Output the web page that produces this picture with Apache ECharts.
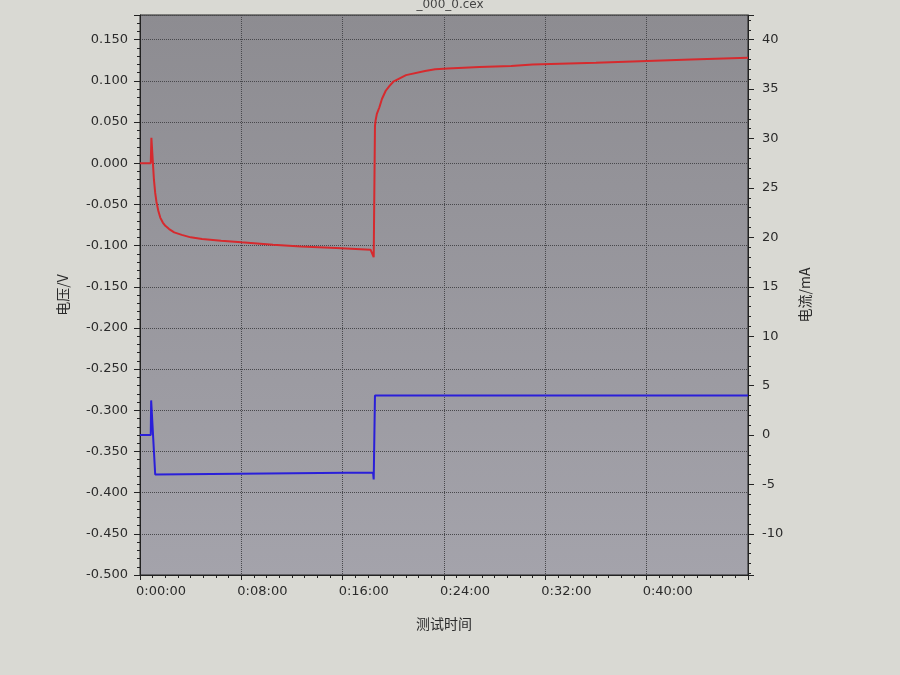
<!DOCTYPE html>
<html>
<head>
<meta charset="utf-8">
<script src="https://cdn.jsdelivr.net/npm/echarts@6/dist/echarts.min.js"></script>
<style>
  html, body { margin: 0; padding: 0; background: #d9d9d3; }
  #main { width: 900px; height: 675px; }
</style>
</head>
<body>
<div id="main"></div>
<script>
// 测试时间 (分钟) 与电压 (V)
var voltTime  = [0, 0.85, 0.9, 1.0, 1.1, 1.2, 1.3, 1.45, 1.6, 1.8, 2.0, 2.3, 2.7, 3.3, 4.0, 4.9, 6.4, 8.0, 10.5, 12.7, 15.5, 18.2, 18.35, 18.45,
                 18.55, 18.6, 18.7, 18.9, 19.1, 19.4, 19.7, 20.0, 20.5, 21.0, 22.5, 23.3, 24.3, 26.8, 29.3, 31, 36, 43.5, 48];
var voltValue = [0.000, 0.000, 0.031, 0.005, -0.020, -0.036, -0.047, -0.058, -0.066, -0.072, -0.076, -0.080, -0.084, -0.087, -0.090, -0.092, -0.094, -0.096, -0.099, -0.101, -0.103, -0.105, -0.106, -0.114,
                 0.045, 0.052, 0.060, 0.068, 0.078, 0.088, 0.094, 0.099, 0.103, 0.107, 0.112, 0.114, 0.115, 0.117, 0.118, 0.120, 0.122, 0.126, 0.128];

// 测试时间 (分钟) 与电流 (mA)
var currTime  = [0, 0.85, 0.88, 1.2, 10, 18.4, 18.45, 18.55, 30, 48];
var currValue = [0, 0, 3.5, -4.0, -3.9, -3.8, -4.5, 4.0, 4.0, 4.0];

var xTicks = [0, 8, 16, 24, 32, 40];

function pairs(xs, ys) {
    return xs.map(function (x, i) { return [x, ys[i]]; });
}

function fmtTime(m) {
    var h = Math.floor(m / 60);
    var mm = Math.round(m % 60);
    return h + ':' + (mm < 10 ? '0' : '') + mm + ':00';
}

var chart = echarts.init(document.getElementById('main'));

var labelFont = { color: '#2b2b2b', fontSize: 13, fontFamily: 'DejaVu Sans' };
var nameFont = { color: '#2b2b2b', fontSize: 14, fontFamily: 'Noto Sans CJK SC' };

var option = {
    backgroundColor: '#d9d9d3',
    animation: false,
    title: {
        text: '_000_0.cex',
        left: 'center',
        top: -6,
        textStyle: { color: '#444', fontSize: 12, fontWeight: 'normal', fontFamily: 'DejaVu Sans' }
    },
    grid: {
        left: 140,
        right: 152,
        top: 15,
        bottom: 100,
        show: true,
        backgroundColor: new echarts.graphic.LinearGradient(0, 0, 0, 1, [
            { offset: 0, color: '#8d8c91' },
            { offset: 1, color: '#a4a3ab' }
        ]),
        borderColor: '#222',
        borderWidth: 1
    },
    xAxis: {
        type: 'value',
        min: 0,
        max: 48,
        interval: 8,
        name: '测试时间',
        nameLocation: 'middle',
        nameGap: 42,
        nameTextStyle: nameFont,
        axisLine: { show: true, onZero: false, lineStyle: { color: '#222' } },
        axisTick: { show: true, length: 5, lineStyle: { color: '#222' } },
        minorTick: { show: true, splitNumber: 8, length: 3, lineStyle: { color: '#222' } },
        axisLabel: Object.assign({
            showMaxLabel: false,
            align: 'left',
            margin: 10,
            padding: [0, 0, 0, -4],
            formatter: function (v) { return xTicks.indexOf(v) >= 0 ? fmtTime(v) : ''; }
        }, labelFont),
        splitLine: { show: true, lineStyle: { color: '#48484c', type: 'dotted', width: 1 } }
    },
    yAxis: [
        {
            type: 'value',
            position: 'left',
            min: -0.5,
            max: 0.18,
            interval: 0.05,
            name: '电压/V',
            nameLocation: 'middle',
            nameRotate: 90,
            nameGap: 70,
            nameTextStyle: nameFont,
            axisLine: { show: true, onZero: false, lineStyle: { color: '#222' } },
            axisTick: { show: true, length: 6, lineStyle: { color: '#222' } },
            minorTick: { show: true, splitNumber: 5, length: 3, lineStyle: { color: '#222' } },
            axisLabel: Object.assign({
                showMaxLabel: false,
                margin: 12,
                formatter: function (v) { return v.toFixed(3); }
            }, labelFont),
            splitLine: { show: true, lineStyle: { color: '#48484c', type: 'dotted', width: 1 } }
        },
        {
            type: 'value',
            position: 'right',
            min: -14.1667,
            max: 42.5,
            splitNumber: 11,
            name: '电流/mA',
            nameLocation: 'middle',
            nameRotate: 90,
            nameGap: 50,
            nameTextStyle: nameFont,
            axisLine: { show: true, onZero: false, lineStyle: { color: '#222' } },
            axisTick: { show: true, length: 6, lineStyle: { color: '#222' } },
            minorTick: { show: true, splitNumber: 5, length: 3, lineStyle: { color: '#222' } },
            axisLabel: Object.assign({
                showMinLabel: false,
                showMaxLabel: false,
                margin: 14
            }, labelFont),
            splitLine: { show: false }
        }
    ],
    series: [
        {
            name: '电压',
            type: 'line',
            yAxisIndex: 0,
            showSymbol: false,
            data: pairs(voltTime, voltValue),
            lineStyle: { color: '#d62a2e', width: 2 },
            itemStyle: { color: '#d62a2e' }
        },
        {
            name: '电流',
            type: 'line',
            yAxisIndex: 1,
            showSymbol: false,
            data: pairs(currTime, currValue),
            lineStyle: { color: '#2a1fd9', width: 2 },
            itemStyle: { color: '#2a1fd9' }
        }
    ]
};

chart.setOption(option);
</script>
</body>
</html>
